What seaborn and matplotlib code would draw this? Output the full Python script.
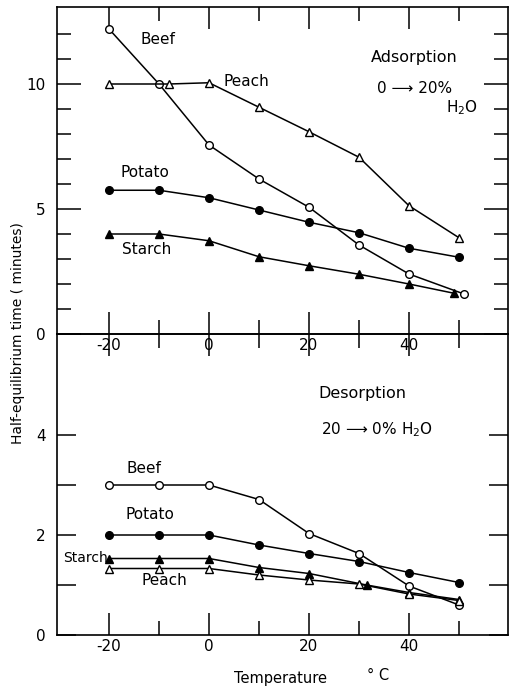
import matplotlib
matplotlib.use("Agg")
import matplotlib.pyplot as plt
import seaborn as sns
import pandas as pd
from matplotlib.ticker import FixedLocator

sns.set_style("ticks")
plt.rcParams['font.family'] = ['DejaVu Sans']
plt.rcParams['text.color'] = 'black'
plt.rcParams['axes.labelcolor'] = 'black'
plt.rcParams['xtick.color'] = 'black'
plt.rcParams['ytick.color'] = 'black'
plt.rcParams['axes.unicode_minus'] = False

# ---- Adsorption (0 -> 20% H2O) ----
ads_beef_t = [-20, -10, 0, 10, 20, 30, 40, 51]
ads_beef = [12.2, 10.0, 7.56, 6.2, 5.07, 3.56, 2.4, 1.6]
ads_peach_t = [-20, -8, 0, 10, 20, 30, 40, 50]
ads_peach = [10.0, 10.0, 10.05, 9.07, 8.09, 7.07, 5.13, 3.85]
ads_potato_t = [-20, -10, 0, 10, 20, 30, 40, 50]
ads_potato = [5.75, 5.75, 5.45, 4.96, 4.47, 4.05, 3.43, 3.07]
ads_starch_t = [-20, -10, 0, 10, 20, 30, 40, 49]
ads_starch = [4.0, 4.0, 3.73, 3.09, 2.73, 2.39, 2.0, 1.63]

# ---- Desorption (20 -> 0% H2O) ----
des_beef_t = [-20, -10, 0, 10, 20, 30, 40, 50]
des_beef = [3.0, 3.0, 3.0, 2.71, 2.03, 1.63, 0.98, 0.6]
des_potato_t = [-20, -10, 0, 10, 20, 30, 40, 50]
des_potato = [2.0, 2.0, 2.0, 1.8, 1.63, 1.47, 1.25, 1.05]
des_starch_t = [-20, -10, 0, 10, 20, 31.5, 40, 50]
des_starch = [1.53, 1.53, 1.53, 1.35, 1.23, 1.0, 0.85, 0.71]
des_peach_t = [-20, -10, 0, 10, 20, 30, 40, 50]
des_peach = [1.33, 1.33, 1.33, 1.2, 1.1, 1.02, 0.82, 0.69]

x_ticklabels = [-20, 0, 20, 40]

W, H = 509, 688
fig = plt.figure(figsize=(W / 100, H / 100), dpi=100)
L, R = 57, 508
ax1 = fig.add_axes([L / W, 1 - 334 / H, (R - L) / W, (334 - 7) / H])
ax2 = fig.add_axes([L / W, 1 - 635 / H, (R - L) / W, (635 - 334) / H])
for ax in (ax1, ax2):
    ax.patch.set_alpha(0)

def series(ax, t, v, marker, filled):
    df = pd.DataFrame({"t": t, "v": v})
    sns.lineplot(data=df, x="t", y="v", ax=ax, sort=False, estimator=None,
                 color="black", linewidth=1.1, marker=marker,
                 markersize=5.5 if marker == 'o' else 6,
                 markerfacecolor="black" if filled else "white",
                 markeredgecolor="black", markeredgewidth=1.0)

series(ax1, ads_beef_t, ads_beef, 'o', False)
series(ax1, ads_peach_t, ads_peach, '^', False)
series(ax1, ads_potato_t, ads_potato, 'o', True)
series(ax1, ads_starch_t, ads_starch, '^', True)

series(ax2, des_beef_t, des_beef, 'o', False)
series(ax2, des_potato_t, des_potato, 'o', True)
series(ax2, des_starch_t, des_starch, '^', True)
series(ax2, des_peach_t, des_peach, '^', False)

xl = ((L - 209) / 5, (R - 209) / 5)
ax1.set_xlim(*xl)
ax2.set_xlim(*xl)
ax1.set_ylim(0, (334 - 7) / 25)
ax2.set_ylim(0, (635 - 334) / 50)

for ax in (ax1, ax2):
    ax.set_xlabel("")
    ax.set_ylabel("")
    ax.xaxis.set_major_locator(FixedLocator(x_ticklabels))
    ax.xaxis.set_minor_locator(FixedLocator([-10, 10, 30, 50]))
    for s in ax.spines.values():
        s.set_linewidth(1.2)
        s.set_color('black')
    ax.tick_params(axis='both', which='both', direction='in', colors='black',
                   labelsize=11, width=1.1, top=True, right=True)
    ax.tick_params(axis='x', which='major', length=16, pad=3)
    ax.tick_params(axis='x', which='minor', length=10)

ax1.yaxis.set_major_locator(FixedLocator([0, 5, 10]))
ax1.yaxis.set_minor_locator(FixedLocator([1, 2, 3, 4, 6, 7, 8, 9, 11, 12]))
ax1.tick_params(axis='y', which='major', length=17, pad=8)
ax1.tick_params(axis='y', which='minor', length=10)

ax2.yaxis.set_major_locator(FixedLocator([0, 2, 4]))
ax2.yaxis.set_minor_locator(FixedLocator([1, 3]))
ax2.tick_params(axis='y', which='major', length=14, pad=8)
ax2.tick_params(axis='y', which='minor', length=14)

fs = 11
ax1.text(-10.2, 11.76, "Beef", fontsize=fs, ha='center', va='center')
ax1.text(7.5, 10.1, "Peach", fontsize=fs, ha='center', va='center')
ax1.text(-12.8, 6.47, "Potato", fontsize=fs, ha='center', va='center')
ax1.text(-12.5, 3.39, "Starch", fontsize=fs, ha='center', va='center')
ax1.text(41, 11.05, "Adsorption", fontsize=11.5, ha='center', va='center')
ax1.text(41.2, 9.83, "0 ⟶ 20%", fontsize=fs, ha='center', va='center')
ax1.text(50.5, 9.07, "H$_2$O", fontsize=fs, ha='center', va='center')

ax2.text(30.7, 4.83, "Desorption", fontsize=11.5, ha='center', va='center')
ax2.text(33.5, 4.11, "20 ⟶ 0% H$_2$O", fontsize=fs, ha='center', va='center')
ax2.text(-13.1, 3.33, "Beef", fontsize=fs, ha='center', va='center')
ax2.text(-11.8, 2.41, "Potato", fontsize=fs, ha='center', va='center')
ax2.text(-20.3, 1.53, "Starch", fontsize=10, ha='right', va='center')
ax2.text(-9, 1.09, "Peach", fontsize=fs, ha='center', va='center')

fig.text(18 / W, 1 - 333 / H, "Half-equilibrium time ( minutes)", rotation=90,
         fontsize=10, ha='center', va='center')
fig.text(280 / W, 1 - 678 / H, "Temperature", fontsize=10.5, ha='center', va='center')
fig.text(378 / W, 1 - 676 / H, "° C", fontsize=10.5, ha='center', va='center')

fig.savefig("out.png", dpi=100)
